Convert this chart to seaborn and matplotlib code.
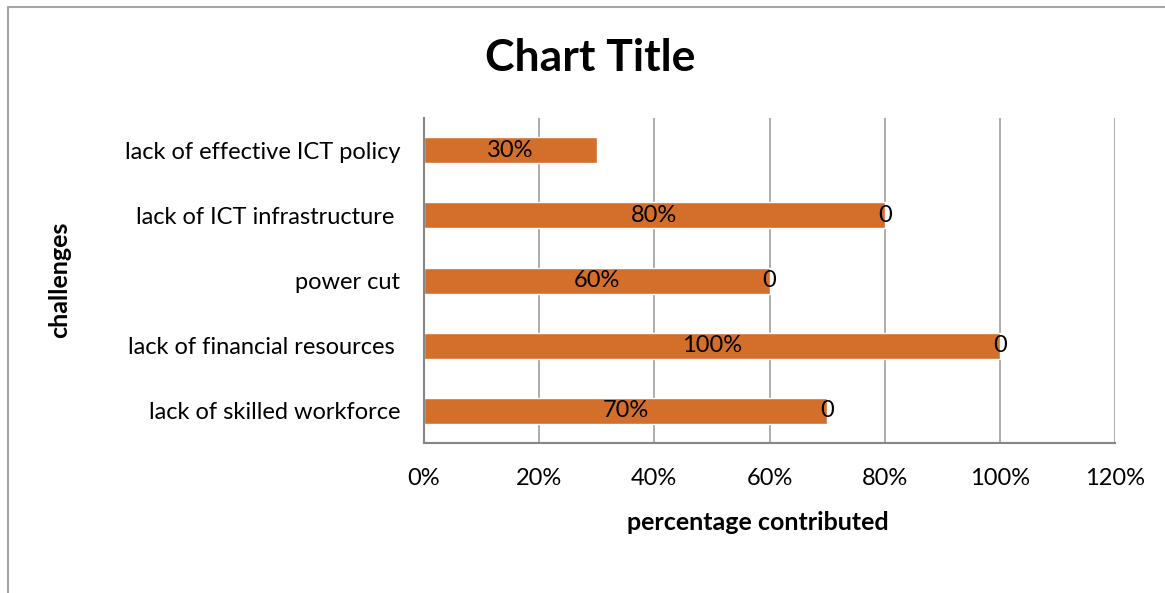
import matplotlib.pyplot as plt
import seaborn as sns
import pandas as pd
from matplotlib.ticker import PercentFormatter
from matplotlib.lines import Line2D

challenges = [
    "lack of effective ICT policy",
    "lack of ICT infrastructure ",
    "power cut",
    "lack of financial resources ",
    "lack of skilled workforce",
]
share = [0.30, 0.80, 0.60, 1.00, 0.70]
share_labels = ["30%", "80%", "60%", "100%", "70%"]
end_labels = ["", "0", "0", "0", "0"]

df = pd.DataFrame({"challenge": challenges, "share": share})

sns.set_style("white")
plt.rcParams["font.family"] = ["Lato", "DejaVu Sans"]
plt.rcParams["text.color"] = "black"
plt.rcParams["xtick.color"] = "black"
plt.rcParams["ytick.color"] = "black"

fig = plt.figure(figsize=(11.65, 5.93), dpi=100)
ax = fig.add_axes([424 / 1165, 1 - 443 / 593, 691 / 1165, 325 / 593])

sns.barplot(data=df, x="share", y="challenge", orient="h", color="#D36E2B",
            saturation=1, width=0.4, ax=ax)

ax.bar_label(ax.containers[0], labels=share_labels, label_type="center",
             fontsize=17, color="black")
for i, (v, lab) in enumerate(zip(share, end_labels)):
    if lab:
        ax.text(v, i, lab, ha="center", va="center", fontsize=17, color="black")

ax.set_xlim(0, 1.2)
ax.set_xticks([0, 0.2, 0.4, 0.6, 0.8, 1.0, 1.2])
ax.xaxis.set_major_formatter(PercentFormatter(1.0, decimals=0))
ax.grid(axis="x", color="#A6A6A6", linewidth=1.3)
ax.set_axisbelow(True)
for s in ["top", "right"]:
    ax.spines[s].set_visible(False)
ax.spines["left"].set_color("#868686")
ax.spines["bottom"].set_color("#868686")
ax.spines["left"].set_linewidth(1.5)
ax.spines["bottom"].set_linewidth(1.5)
ax.tick_params(axis="both", length=0, labelsize=17)
ax.tick_params(axis="y", pad=17)
ax.tick_params(axis="x", pad=18)
ax.set_xlabel("")
ax.set_ylabel("")

fig.text(590 / 1165, 1 - 58 / 593, "Chart Title", ha="center", va="center",
         fontsize=32, fontweight="bold")
fig.text(60 / 1165, 1 - 280 / 593, "challenges", ha="center", va="center",
         rotation=90, fontsize=18, fontweight="bold")
fig.text(758 / 1165, 1 - 523 / 593, "percentage contributed", ha="center",
         va="center", fontsize=18, fontweight="bold")

# chart frame edges
fig.add_artist(Line2D([8 / 1165, 1], [1 - 7 / 593] * 2, color="#A6A6A6",
                      linewidth=1.5, transform=fig.transFigure))
fig.add_artist(Line2D([8 / 1165] * 2, [0, 1 - 7 / 593], color="#A6A6A6",
                      linewidth=1.5, transform=fig.transFigure))

fig.savefig("out.png", dpi=100)
